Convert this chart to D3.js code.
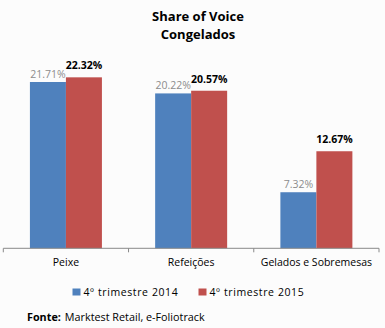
<!DOCTYPE html>
<html><head><meta charset="utf-8">
<script src="https://cdn.jsdelivr.net/npm/d3@7/dist/d3.min.js"></script>
<style>html,body{margin:0;padding:0;background:#fcfcfc;}svg{display:block;}</style>
</head><body>
<script>
const categories = ["Peixe", "Refeições", "Gelados e Sobremesas"];
const seriesNames = ["4º trimestre 2014", "4º trimestre 2015"];
const values2014 = [21.71, 20.22, 7.32];
const values2015 = [22.32, 20.57, 12.67];
const titleLines = ["Share of Voice", "Congelados"];
const sourceLabel = "Fonte:";
const sourceText = "Marktest Retail, e-Foliotrack";

const W = 385, H = 328;
const colors = ["#4f81bd", "#c0504d"];
const font = "'Open Sans', sans-serif";
const svg = d3.select("body").append("svg").attr("width", W).attr("height", H);
svg.append("rect").attr("width", W).attr("height", H).attr("fill", "#fcfcfc");

const x0 = d3.scaleBand().domain(categories).range([3.3, 379]).paddingInner(0).paddingOuter(0);
const y = d3.scaleLinear().domain([0, 25]).range([248.3, 248.3 - 25 * 7.66]);

const series = [values2014, values2015];
// title
svg.append("g").selectAll("text").data(titleLines).join("text")
  .attr("x", 198).attr("y", (d, i) => 21 + i * 18)
  .attr("text-anchor", "middle").attr("font-family", font).attr("font-weight", "bold")
  .attr("font-size", 13).attr("fill", "#000").text(d => d);

const groups = svg.append("g").selectAll("g").data(categories).join("g")
  .attr("transform", d => `translate(${x0(d)},0)`);

const bw = 36;
groups.each(function (cat, ci) {
  const g = d3.select(this);
  const cx = x0.bandwidth() / 2;
  series.forEach((vals, si) => {
    const bx = cx - bw + si * bw;
    g.append("rect").attr("x", bx).attr("width", bw)
      .attr("y", y(vals[ci])).attr("height", y(0) - y(vals[ci]))
      .attr("fill", colors[si]);
    g.append("text").attr("x", bx + bw / 2)
      .attr("y", y(vals[ci]) - (si === 0 ? 4.5 : 8))
      .attr("text-anchor", "middle").attr("font-family", font)
      .attr("font-size", 10.5)
      .attr("font-weight", si === 0 ? "normal" : "bold")
      .attr("fill", si === 0 ? "#8c8c8c" : "#000")
      .text(vals[ci].toFixed(2) + "%");
  });
});

// axis
const axis = d3.axisBottom(x0).tickSize(0).tickPadding(10);
const ax = svg.append("g").attr("transform", `translate(0,${y(0)})`).call(axis);
ax.select(".domain").attr("stroke", "#898989").attr("d", `M3.3,0H379`);
ax.selectAll("text").attr("font-family", font).attr("font-size", 10.5).attr("fill", "#000");
const tickXs = [x0.range()[0]].concat(categories.map(c => x0(c) + x0.bandwidth()));
ax.selectAll("line.sep").data(tickXs).join("line").attr("class", "sep")
  .attr("x1", d => d).attr("x2", d => d).attr("y1", 0).attr("y2", 4)
  .attr("stroke", "#898989");

// legend
const legendX = [72.5, 198.5];
const lg = svg.append("g").selectAll("g").data(seriesNames).join("g")
  .attr("transform", (d, i) => `translate(${legendX[i]},288.5)`);
lg.append("rect").attr("width", 8).attr("height", 7).attr("fill", (d, i) => colors[i]);
lg.append("text").attr("x", 11).attr("y", 7.5).attr("font-family", font)
  .attr("font-size", 10.5).attr("letter-spacing", 0.6).attr("fill", "#000").text(d => d);

// source
const src = svg.append("text").attr("x", 27).attr("y", 321).attr("font-family", font).attr("font-size", 10.8).attr("fill", "#000");
src.append("tspan").attr("font-weight", "bold").text(sourceLabel);
src.append("tspan").attr("dx", 4).text(sourceText);
</script>
</body></html>
